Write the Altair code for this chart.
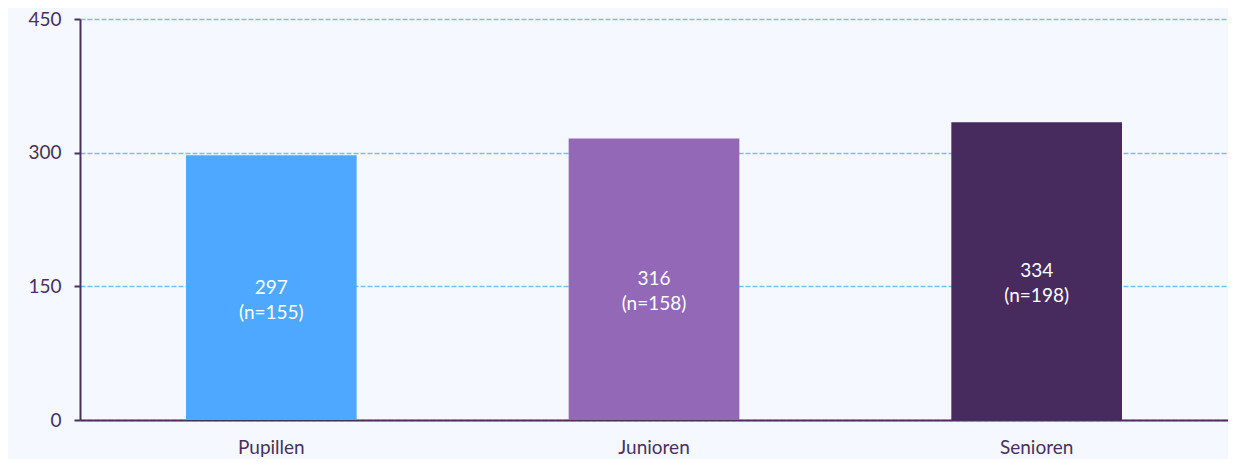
import altair as alt
import pandas as pd

categories = ["Pupillen", "Junioren", "Senioren"]
values = [297, 316, 334]
counts = [155, 158, 198]
colors = ["#4fa8ff", "#9368b6", "#472b5e"]

df = pd.DataFrame({
    "cat": categories,
    "val": values,
    "n": counts,
    "label": [f"{v}\n(n={n})" for v, n in zip(values, counts)],
})
df["mid"] = df["val"] / 2

FONT = "Lato"
AXIS_COLOR = "#47305f"

x = alt.X("cat:N", sort=categories, title=None,
          scale=alt.Scale(paddingInner=0.554, paddingOuter=0.277),
          axis=alt.Axis(labelAngle=0, ticks=False, labelPadding=18, labelFontSize=19,
                        labelColor=AXIS_COLOR, labelFont=FONT, domainColor=AXIS_COLOR,
                        domainWidth=2, grid=False))

bars = alt.Chart(df).mark_bar().encode(
    x=x,
    y=alt.Y("val:Q", title=None,
            scale=alt.Scale(domain=[0, 450], nice=False),
            axis=alt.Axis(values=[0, 150, 300, 450], tickSize=6, tickColor=AXIS_COLOR,
                          tickWidth=2, labelFontSize=19, labelColor=AXIS_COLOR,
                          labelFont=FONT, labelPadding=13, domainColor=AXIS_COLOR,
                          domainWidth=2, grid=True, gridColor="#72c2ff",
                          gridDash=[5, 2], gridWidth=1.3, minExtent=72)),
    color=alt.Color("cat:N", sort=categories,
                    scale=alt.Scale(domain=categories, range=colors), legend=None),
)

text = alt.Chart(df).mark_text(
    color="#ffffff", fontSize=19, font=FONT, baseline="middle", align="center",
    lineBreak="\n", lineHeight=25,
).encode(
    x=alt.X("cat:N", sort=categories),
    y=alt.Y("mid:Q"),
    text="label:N",
)

chart = (bars + text).properties(
    width=1148, height=401, background="#f5f8fe",
    padding={"left": 0, "top": 2, "right": 0, "bottom": 2},
).configure_view(stroke=None)

chart.save("out.html", embed_options={"renderer": "svg", "actions": False})
